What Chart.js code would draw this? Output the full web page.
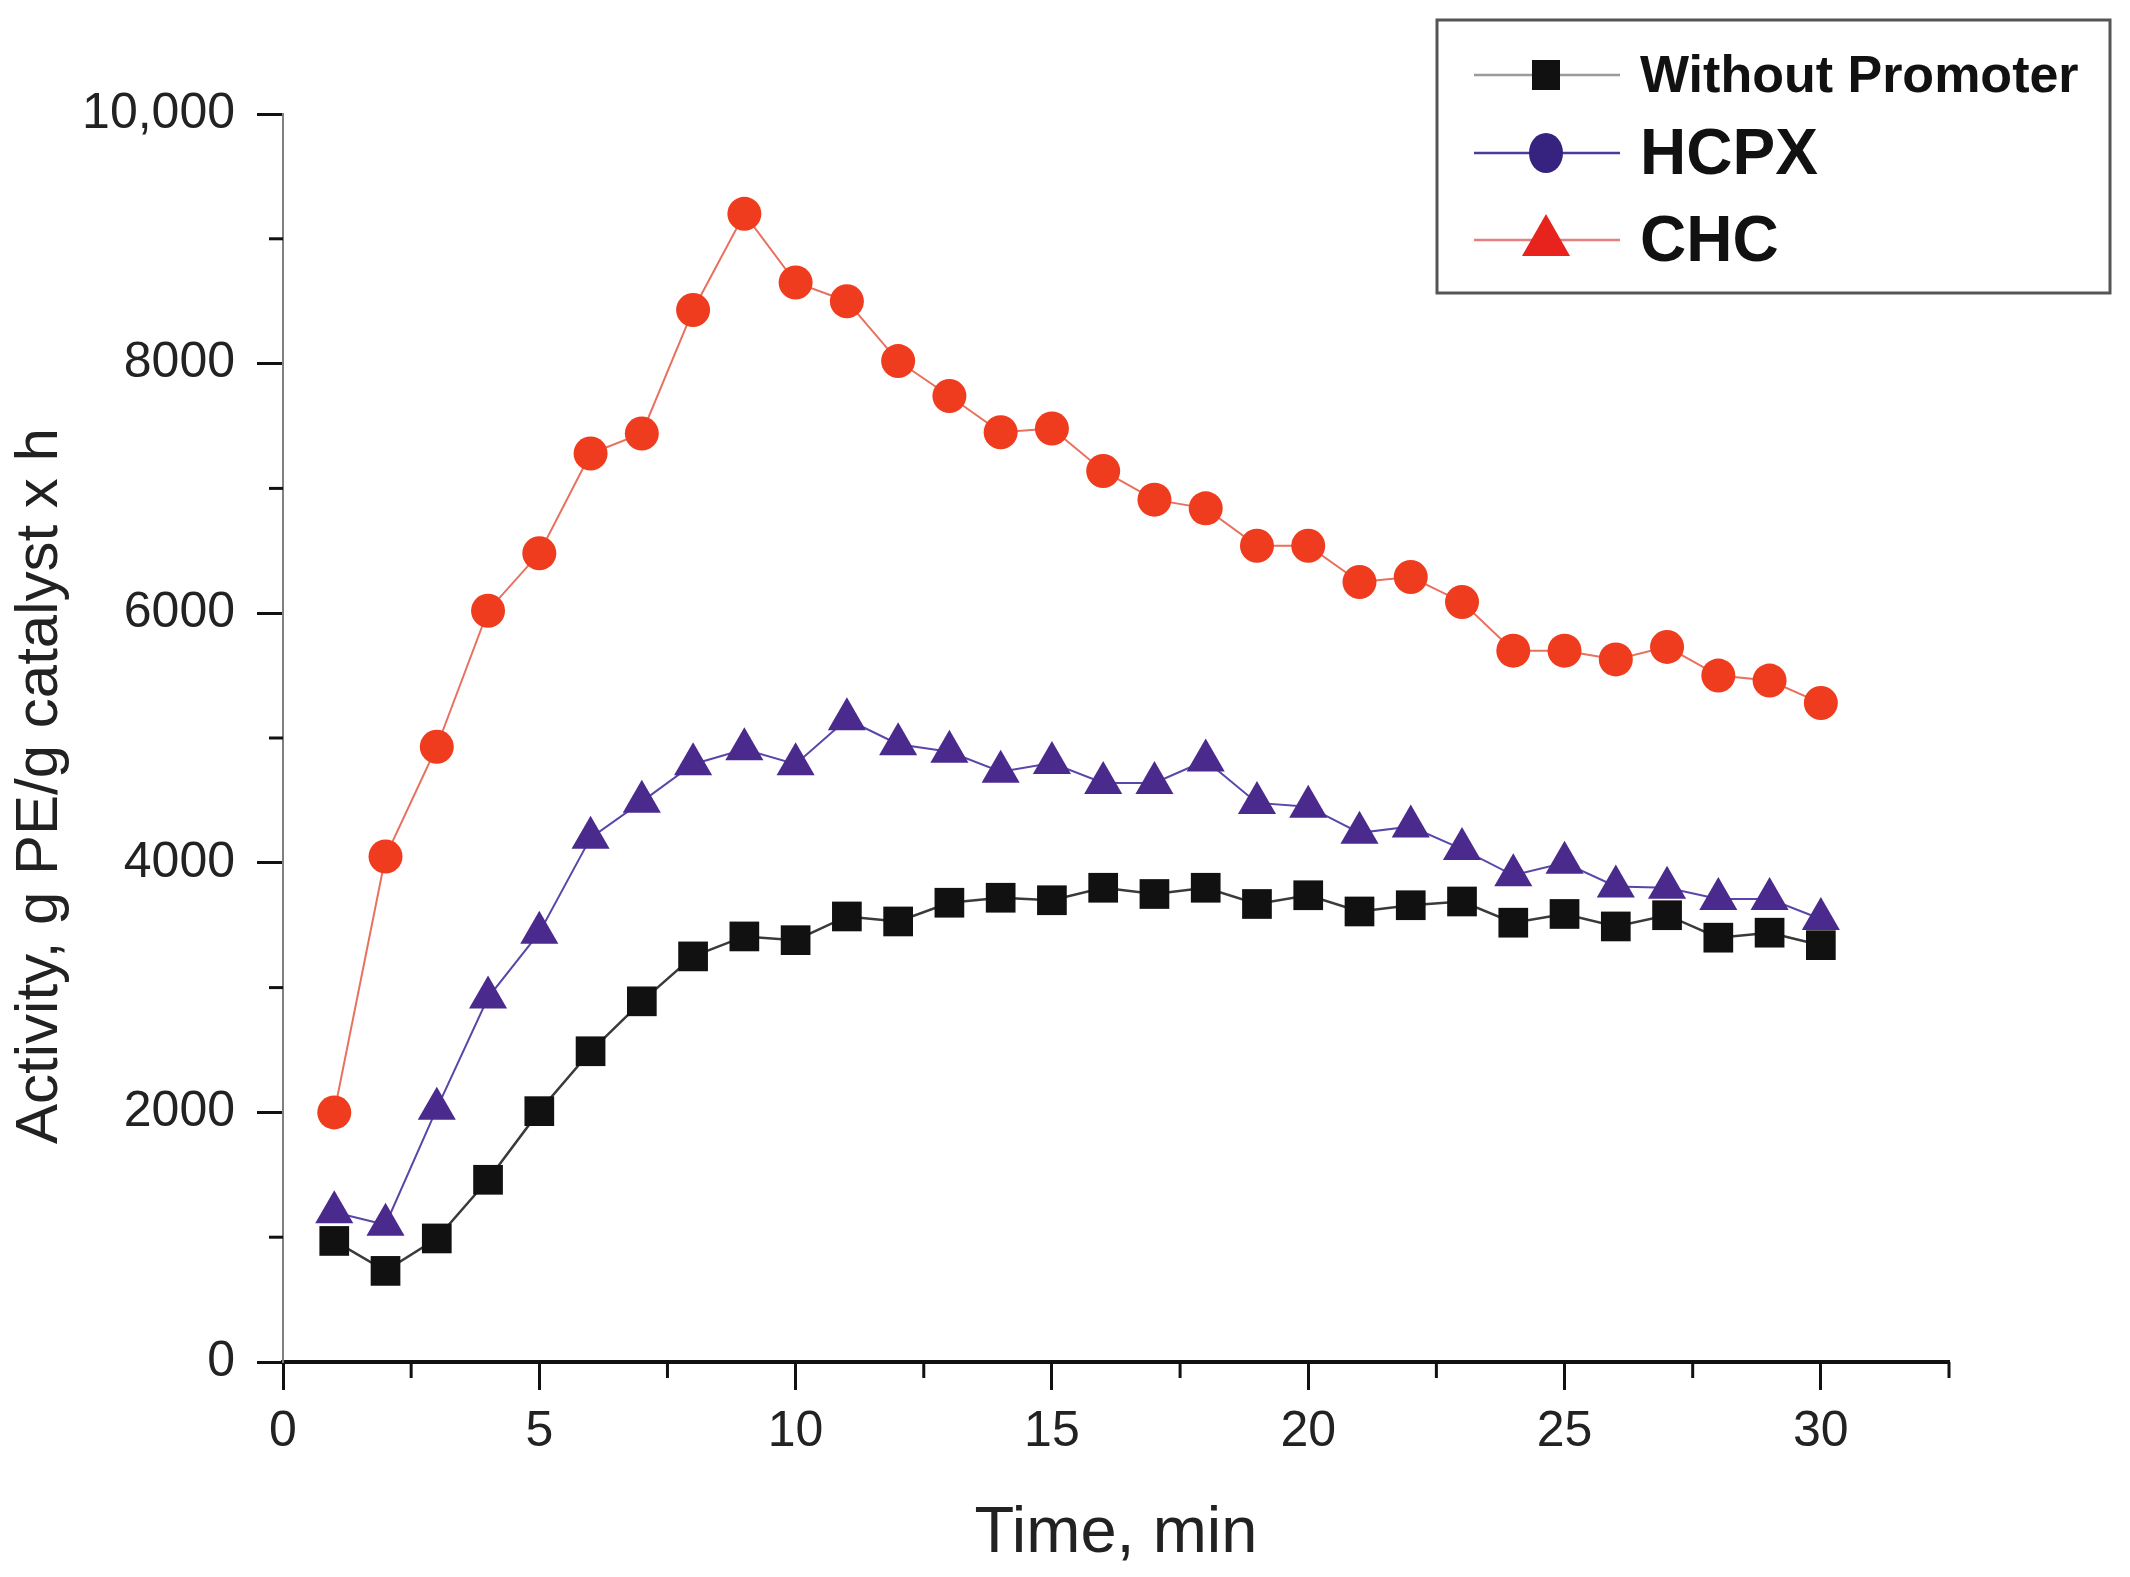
<!DOCTYPE html>
<html>
<head>
<meta charset="utf-8">
<script src="https://cdn.jsdelivr.net/npm/chart.js@4.4.0/dist/chart.umd.min.js"></script>
<style>
    body { margin: 0; background: #fff; }
    #wrap { width: 2130px; height: 1577px; }
</style>
</head>
<body>
<div id="wrap"><canvas id="chart" width="2130" height="1577"></canvas></div>
<script>
// time points, min
var times = [1, 2, 3, 4, 5, 6, 7, 8, 9, 10, 11, 12, 13, 14, 15, 16, 17, 18, 19, 20, 21, 22, 23, 24, 25, 26, 27, 28, 29, 30];

// activity, g PE/g catalyst x h
var withoutPromoter = [970, 730, 990, 1460, 2010, 2490, 2890, 3250, 3410, 3380, 3570, 3530, 3680, 3720, 3700, 3800, 3750, 3800, 3670, 3740, 3610, 3660, 3690, 3520, 3590, 3490, 3580, 3400, 3440, 3340];
var hcpx = [1200, 1100, 2030, 2920, 3440, 4200, 4490, 4790, 4910, 4790, 5150, 4950, 4890, 4730, 4800, 4640, 4640, 4820, 4480, 4450, 4240, 4290, 4110, 3900, 4000, 3810, 3800, 3710, 3710, 3550];
var chc = [2000, 4050, 4930, 6020, 6480, 7280, 7440, 8430, 9200, 8650, 8500, 8020, 7740, 7450, 7480, 7140, 6910, 6840, 6540, 6540, 6250, 6290, 6090, 5700, 5700, 5630, 5730, 5500, 5460, 5280];

var seriesLabels = ['Without Promoter', 'HCPX', 'CHC'];
var yMinorTicks = [1000, 3000, 5000, 7000, 9000];
var xMinorTicks = [2.5, 7.5, 12.5, 17.5, 22.5, 27.5, 32.5];

var FONT = "'Liberation Sans', Arial, Helvetica, sans-serif";

function toPoints(vals) {
    return vals.map(function (v, i) { return { x: times[i], y: v }; });
}

// minor ticks, y title and the boxed legend
var extrasPlugin = {
    id: 'extras',
    afterDraw: function (chart) {
        var ctx = chart.ctx;
        var xs = chart.scales.x, ys = chart.scales.y;
        var area = chart.chartArea;
        ctx.save();

        ctx.strokeStyle = '#111';
        ctx.lineWidth = 3;
        yMinorTicks.forEach(function (v) {
            var py = ys.getPixelForValue(v);
            ctx.beginPath();
            ctx.moveTo(area.left - 14, py);
            ctx.lineTo(area.left, py);
            ctx.stroke();
        });
        xMinorTicks.forEach(function (v) {
            var px = xs.getPixelForValue(v);
            ctx.beginPath();
            ctx.moveTo(px, area.bottom);
            ctx.lineTo(px, area.bottom + 16);
            ctx.stroke();
        });

        // y axis title sits a bit below the axis centre in the original
        ctx.translate(40, area.top + (area.bottom - area.top) / 2 + 48);
        ctx.rotate(-Math.PI / 2);
        ctx.fillStyle = '#222';
        ctx.font = '60px ' + FONT;
        ctx.textAlign = 'center';
        ctx.textBaseline = 'middle';
        ctx.fillText('Activity, g PE/g catalyst x h', 0, 0);
        ctx.restore();

        // legend box
        ctx.save();
        ctx.fillStyle = '#fff';
        ctx.fillRect(1437, 20, 673, 273);
        ctx.strokeStyle = '#555';
        ctx.lineWidth = 3;
        ctx.strokeRect(1437, 20, 673, 273);

        var rows = [
            { y: 75, line: '#9a9a9a', fill: '#111', shape: 'rect', font: 'bold 52px ' },
            { y: 153, line: '#4a3c9c', fill: '#35237f', shape: 'circle', font: 'bold 64px ' },
            { y: 240, line: '#e48080', fill: '#e8221c', shape: 'triangle', font: 'bold 64px ' }
        ];
        rows.forEach(function (r, i) {
            ctx.strokeStyle = r.line;
            ctx.lineWidth = 2.5;
            ctx.beginPath();
            ctx.moveTo(1474, r.y);
            ctx.lineTo(1620, r.y);
            ctx.stroke();
            ctx.fillStyle = r.fill;
            var cx = 1546;
            if (r.shape === 'rect') {
                ctx.fillRect(cx - 14, r.y - 15, 28, 30);
            } else if (r.shape === 'circle') {
                ctx.beginPath();
                ctx.ellipse(cx, r.y, 17, 20, 0, 0, Math.PI * 2);
                ctx.fill();
            } else {
                ctx.beginPath();
                ctx.moveTo(cx, r.y - 26);
                ctx.lineTo(cx + 24, r.y + 16);
                ctx.lineTo(cx - 24, r.y + 16);
                ctx.closePath();
                ctx.fill();
            }
            ctx.fillStyle = '#111';
            ctx.font = r.font + FONT;
            ctx.textAlign = 'left';
            ctx.textBaseline = 'middle';
            ctx.fillText(seriesLabels[i], 1640, r.y + 3);
        });
        ctx.restore();
    }
};

var ctx = document.getElementById('chart');
var activityChart = new Chart(ctx, {
    type: 'line',
    data: {
        datasets: [{
            label: seriesLabels[0],
            data: toPoints(withoutPromoter),
            borderColor: '#3a3a3a',
            borderWidth: 2.5,
            pointStyle: 'rect',
            pointRadius: 21,
            pointBackgroundColor: '#111',
            pointBorderColor: '#111',
            pointBorderWidth: 0,
            order: 3
        }, {
            label: seriesLabels[1],
            data: toPoints(hcpx),
            borderColor: '#5a46a8',
            borderWidth: 2,
            pointStyle: 'triangle',
            pointRadius: 22,
            pointBackgroundColor: '#4b2a8e',
            pointBorderColor: '#4b2a8e',
            pointBorderWidth: 0,
            order: 2
        }, {
            label: seriesLabels[2],
            data: toPoints(chc),
            borderColor: '#e8705e',
            borderWidth: 2,
            pointStyle: 'circle',
            pointRadius: 17,
            pointBackgroundColor: '#f03c1e',
            pointBorderColor: '#f03c1e',
            pointBorderWidth: 0,
            order: 1
        }]
    },
    options: {
        responsive: false,
        animation: false,
        devicePixelRatio: 1,
        layout: { padding: { top: 114, right: 181, bottom: 0, left: 0 } },
        plugins: {
            legend: { display: false },
            tooltip: { enabled: false }
        },
        scales: {
            x: {
                type: 'linear',
                min: 0,
                max: 32.5,
                border: { color: '#111', width: 4 },
                grid: { drawOnChartArea: false, drawTicks: true, tickLength: 28, tickColor: '#111', tickWidth: 3 },
                ticks: {
                    stepSize: 5,
                    includeBounds: false,
                    padding: 12,
                    color: '#222',
                    font: { family: FONT, size: 50 }
                },
                title: {
                    display: true,
                    text: 'Time, min',
                    color: '#222',
                    font: { family: FONT, size: 65 },
                    padding: { top: 0, bottom: 4 }
                },
                afterFit: function (scale) { scale.height = 215; }
            },
            y: {
                min: 0,
                max: 10000,
                border: { color: '#808080', width: 2 },
                grid: { drawOnChartArea: false, drawTicks: true, tickLength: 26, tickColor: '#111', tickWidth: 3 },
                ticks: {
                    stepSize: 2000,
                    padding: 22,
                    color: '#222',
                    font: { family: FONT, size: 50 },
                    callback: function (v) { return v === 10000 ? '10,000' : String(v); }
                },
                afterFit: function (scale) { scale.width = 283; }
            }
        }
    },
    plugins: [extrasPlugin]
});
</script>
</body>
</html>
